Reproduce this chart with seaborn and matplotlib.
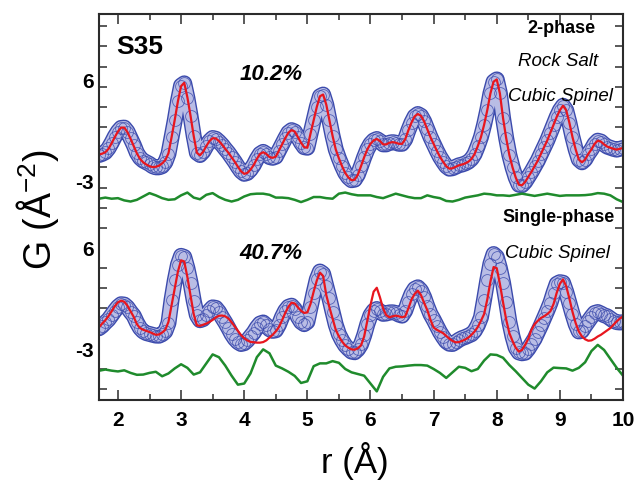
import numpy as np
import pandas as pd
import matplotlib
matplotlib.use("Agg")
import matplotlib.pyplot as plt
import matplotlib.patheffects as pe
import seaborn as sns
from matplotlib.ticker import MultipleLocator, FixedLocator

sns.set_theme(style="ticks")
plt.rcParams['font.family'] = ['Liberation Sans', 'DejaVu Sans']
plt.rcParams['mathtext.fontset'] = 'custom'
plt.rcParams['mathtext.rm'] = 'Liberation Sans'
plt.rcParams['mathtext.it'] = 'Liberation Sans:italic'
plt.rcParams['mathtext.bf'] = 'Liberation Sans:bold'
plt.rcParams['text.color'] = 'black'
plt.rcParams['axes.labelcolor'] = 'black'
plt.rcParams['xtick.labelcolor'] = 'black'
plt.rcParams['ytick.labelcolor'] = 'black'

# r grids (Angstrom)
r = np.round(np.arange(1.70, 10.001, 0.05), 2)
r_diff = np.round(np.arange(1.7, 10.001, 0.1), 1)

# 2-phase panel: observed G(r), fit, difference
g_two_obs = [
    -0.70, -0.60, -0.45, -0.10, 0.40, 0.95, 1.40, 1.72, 1.75, 1.40,
    0.80, 0.20, -0.50, -0.95, -1.20, -1.35, -1.50, -1.70, -1.80, -1.80,
    -1.70, -1.35, -0.60, 0.90, 2.40, 4.10, 5.50, 5.70, 4.40, 2.80,
    1.00, -0.50, -0.70, -0.40, 0.10, 0.55, 0.82, 0.75, 0.50, 0.20,
    -0.16, -0.50, -0.90, -1.30, -1.75, -2.15, -2.38, -2.30, -2.00, -1.60,
    -1.05, -0.60, -0.42, -0.60, -0.88, -0.95, -0.85, -0.30, 0.25, 0.80,
    1.30, 1.52, 1.40, 0.90, 0.40, 0.00, -0.05, 1.20, 2.40, 3.60,
    4.55, 4.70, 3.80, 2.40, 1.00, -0.20, -1.00, -1.70, -2.30, -2.70,
    -2.95, -2.90, -2.45, -1.70, -0.90, -0.20, 0.30, 0.60, 0.73, 0.55,
    0.25, 0.25, 0.40, 0.45, 0.40, 0.30, 0.30, 0.70, 1.50, 2.20,
    2.75, 2.96, 2.80, 2.30, 1.60, 0.90, 0.30, -0.30, -0.85, -1.30,
    -1.70, -1.92, -1.88, -1.75, -1.62, -1.55, -1.45, -1.30, -1.05, -0.60,
    0.10, 0.90, 2.00, 3.30, 4.80, 5.85, 6.05, 4.80, 2.60, 0.80,
    -0.70, -1.80, -2.70, -3.35, -3.40, -3.10, -2.65, -2.20, -1.70, -1.20,
    -0.60, 0.00, 0.60, 1.30, 2.00, 2.70, 3.30, 3.70, 3.30, 2.20,
    0.90, -0.20, -1.10, -1.35, -1.10, -0.60, -0.20, 0.30, 0.58, 0.50,
    0.25, 0.05, -0.05, -0.15, -0.22, -0.15, -0.07,
]
g_two_fit = [
    -0.65, -0.58, -0.45, -0.15, 0.35, 0.90, 1.40, 1.75, 1.75, 1.35,
    0.75, 0.10, -0.55, -1.05, -1.35, -1.55, -1.70, -1.78, -1.75, -1.65,
    -1.45, -1.15, -0.55, 0.90, 2.45, 4.10, 5.45, 5.75, 4.45, 2.80,
    1.00, -0.50, -0.72, -0.40, 0.10, 0.55, 0.80, 0.78, 0.55, 0.22,
    -0.15, -0.50, -0.90, -1.30, -1.75, -2.15, -2.38, -2.30, -2.00, -1.60,
    -1.05, -0.60, -0.45, -0.60, -0.88, -0.95, -0.85, -0.30, 0.25, 0.80,
    1.30, 1.52, 1.40, 0.90, 0.40, 0.00, -0.05, 1.20, 2.40, 3.60,
    4.55, 4.70, 3.80, 2.40, 1.00, -0.20, -1.00, -1.70, -2.30, -2.70,
    -2.95, -2.90, -2.45, -1.70, -0.90, -0.20, 0.30, 0.60, 0.73, 0.55,
    0.25, 0.25, 0.40, 0.45, 0.40, 0.30, 0.30, 0.70, 1.50, 2.20,
    2.75, 2.96, 2.80, 2.30, 1.60, 0.90, 0.30, -0.30, -0.85, -1.30,
    -1.70, -1.92, -1.88, -1.75, -1.62, -1.55, -1.45, -1.30, -1.05, -0.60,
    0.10, 0.90, 2.00, 3.30, 4.80, 5.85, 6.05, 4.80, 2.60, 0.80,
    -0.70, -1.80, -2.70, -3.35, -3.40, -3.10, -2.65, -2.20, -1.70, -1.20,
    -0.60, 0.00, 0.60, 1.30, 2.00, 2.70, 3.30, 3.70, 3.30, 2.20,
    0.90, -0.20, -1.10, -1.35, -1.10, -0.60, -0.20, 0.30, 0.58, 0.50,
    0.25, 0.05, -0.05, -0.15, -0.22, -0.15, -0.07,
]
g_two_diff = [
    0.00, 0.10, 0.00, 0.05, -0.15, -0.25, -0.10, 0.20, 0.50, 0.30,
    0.05, -0.10, -0.05, 0.30, 0.55, 0.10, -0.05, 0.35, 0.50, 0.15,
    -0.10, -0.25, -0.10, 0.20, 0.40, 0.45, 0.45, 0.35, 0.10, 0.10,
    0.05, -0.10, -0.30, -0.10, 0.15, 0.15, 0.05, 0.00, 0.45, 0.55,
    0.40, 0.30, 0.30, 0.30, 0.15, 0.05, 0.25, 0.45, 0.30, 0.15,
    0.05, 0.05, 0.30, 0.15, 0.05, -0.20, -0.25, -0.10, 0.10, 0.20,
    0.30, 0.45, 0.40, 0.30, 0.30, 0.25, 0.35, 0.45, 0.35, 0.25,
    0.35, 0.45, 0.35, 0.25, 0.30, 0.30, 0.30, 0.32, 0.38, 0.50,
    0.45, 0.30, -0.05, -0.30,
]

# single-phase panel
g_one_obs = [
    -1.17, -0.95, -0.65, -0.38, 0.00, 0.40, 0.75, 0.98, 0.95, 0.70,
    0.30, -0.05, -0.65, -1.15, -1.45, -1.60, -1.68, -1.75, -1.82, -1.83,
    -1.70, -1.45, -0.70, 1.40, 3.10, 4.50, 5.30, 5.20, 4.20, 2.90,
    1.30, 0.00, -0.45, -0.35, 0.00, 0.40, 0.70, 0.65, 0.30, -0.20,
    -0.65, -1.15, -1.68, -2.10, -2.40, -2.57, -2.50, -2.25, -1.90, -1.55,
    -1.10, -0.75, -0.65, -0.90, -1.25, -1.40, -1.35, -0.85, -0.15, 0.40,
    0.75, 0.85, 0.55, -0.15, -0.60, -0.80, -0.60, 0.70, 2.00, 3.20,
    3.90, 3.70, 2.60, 1.50, 0.30, -0.85, -1.70, -2.25, -2.70, -3.00,
    -3.25, -3.31, -3.05, -2.60, -1.80, -0.80, 0.00, 0.40, 0.55, 0.35,
    0.12, 0.15, 0.25, 0.26, 0.20, 0.05, -0.04, 0.40, 1.20, 1.90,
    2.35, 2.49, 2.20, 1.60, 0.80, 0.10, -0.40, -0.95, -1.50, -1.95,
    -2.35, -2.55, -2.57, -2.40, -2.20, -2.05, -1.95, -1.82, -1.70, -1.40,
    -0.90, -0.20, 1.40, 3.10, 4.60, 5.46, 5.20, 4.20, 2.90, 1.20,
    -0.60, -1.90, -2.90, -3.32, -3.40, -3.35, -3.00, -2.55, -2.10, -1.50,
    -0.90, -0.25, 0.40, 1.10, 2.00, 2.80, 2.95, 2.90, 2.10, 1.10,
    0.10, -0.80, -1.45, -1.40, -0.95, -0.55, -0.15, 0.20, 0.28, 0.15,
    0.00, -0.10, -0.30, -0.50, -0.62, -0.65, -0.63,
]
g_one_fit = [
    -1.08, -0.75, -0.45, -0.08, 0.35, 0.80, 1.15, 1.30, 1.20, 0.85,
    0.35, -0.15, -0.80, -1.15, -1.30, -1.40, -1.50, -1.62, -1.75, -1.72,
    -1.55, -1.30, -0.60, 0.90, 2.40, 3.90, 4.90, 4.80, 3.40, 1.74,
    0.10, -0.90, -0.95, -0.85, -0.75, -0.60, -0.42, -0.20, -0.05, -0.03,
    -0.10, -0.30, -0.63, -1.00, -1.40, -1.78, -2.05, -2.25, -2.38, -2.42,
    -2.45, -2.45, -2.40, -2.25, -2.00, -1.75, -1.45, -1.05, -0.45, 0.20,
    0.75, 1.12, 1.05, 0.70, 0.40, 0.20, 0.25, 1.00, 2.10, 3.10,
    3.80, 3.50, 1.80, 0.70, -0.30, -1.30, -1.90, -2.35, -2.70, -2.90,
    -3.05, -3.08, -2.95, -2.70, -1.90, -0.50, 0.90, 2.10, 2.45, 1.60,
    0.60, 0.00, -0.19, -0.10, -0.04, -0.10, -0.19, -0.10, 0.60, 1.40,
    1.90, 2.19, 1.80, 1.10, 0.45, -0.40, -1.10, -1.30, -1.45, -1.60,
    -1.85, -2.10, -2.30, -2.42, -2.40, -2.30, -2.17, -2.00, -1.75, -1.45,
    -1.05, -0.50, 0.10, 1.40, 3.00, 4.30, 4.20, 2.80, 1.15, -0.40,
    -1.60, -2.30, -2.90, -3.25, -3.10, -2.65, -2.10, -1.30, -0.80, -0.50,
    -0.25, -0.10, 0.10, 0.35, 1.00, 2.00, 2.80, 3.20, 2.60, 1.50,
    0.30, -0.70, -1.45, -1.90, -2.15, -2.28, -2.25, -2.10, -1.90, -1.75,
    -1.55, -1.35, -1.15, -0.85, -0.55, -0.30, -0.10,
]
g_one_diff = [
    -0.36, -0.25, -0.35, -0.42, -0.32, -0.55, -0.72, -0.70, -0.55, -0.45,
    -0.85, -0.60, -0.15, 0.22, -0.10, -0.70, -0.50, 0.30, 1.10, 0.85,
    0.10, -0.80, -1.60, -1.50, -0.60, 0.85, 1.55, 1.20, 0.10, -0.15,
    -0.45, -0.82, -1.45, -1.30, 0.05, 0.30, 0.30, 0.50, 0.35, -0.20,
    -0.50, -0.65, -0.80, -1.50, -2.20, -0.90, -0.15, 0.00, 0.03, 0.10,
    0.15, 0.15, 0.10, -0.20, -0.55, -1.00, -0.50, 0.00, -0.10, -0.40,
    -0.20, 0.55, 1.10, 1.05, 0.80, 0.15, -0.40, -1.00, -1.60, -1.95,
    -1.30, -0.50, -0.08, -0.12, -0.15, -0.35, -0.10, 0.40, 1.40, 1.95,
    1.50, 0.70, -0.10, -0.80,
]

TOP_OFFSET = 15.0    # vertical shift of the 2-phase panel
DIFF_OFFSET = -4.6   # difference curves sit below each panel

BLUE = '#3b4aac'
BAND = '#b9bde5'
RED = '#e8161e'
GREEN = '#1f8b2c'
DARK = '#2b2b2b'

fig = plt.figure(figsize=(6.38, 4.85), dpi=100)
ax = fig.add_axes([99 / 638, 1 - 401 / 485, 524 / 638, 386 / 485])

# the measured data are drawn as a dense chain of open circles; a thick
# outlined stroke under them gives the packed-ring look of the original
band_fx = [pe.Stroke(linewidth=11.5, foreground=BLUE), pe.Stroke(linewidth=9.5, foreground=BAND)]

for obs, fit, diff, off in [(g_two_obs, g_two_fit, g_two_diff, TOP_OFFSET),
                            (g_one_obs, g_one_fit, g_one_diff, 0.0)]:
    df = pd.DataFrame({'r': r, 'obs': np.array(obs) + off, 'fit': np.array(fit) + off})
    dd = pd.DataFrame({'r': r_diff, 'diff': np.array(diff) + off + DIFF_OFFSET})
    sns.lineplot(data=df, x='r', y='obs', ax=ax, color=BAND, linewidth=9.5,
                 path_effects=band_fx, solid_capstyle='round', solid_joinstyle='round')
    sns.lineplot(data=df, x='r', y='obs', ax=ax, marker='o', linestyle='',
                 markersize=8.5, markerfacecolor='none', markeredgecolor=BLUE,
                 markeredgewidth=0.6, color=BLUE, alpha=0.8)
    sns.lineplot(data=df, x='r', y='fit', ax=ax, color=RED, linewidth=1.6)
    sns.lineplot(data=dd, x='r', y='diff', ax=ax, color=GREEN, linewidth=1.8)

ax.set_xlim(1.7, 10.0)
ax.set_ylim(-7.57, 26.89)

ax.xaxis.set_major_locator(MultipleLocator(1))
ax.xaxis.set_minor_locator(MultipleLocator(0.5))
ax.yaxis.set_major_locator(FixedLocator([-3, 6, 12, 21]))
ax.set_yticklabels(['-3', '6', '-3', '6'])
ax.yaxis.set_minor_locator(FixedLocator(np.round(-6.6 + 1.8 * np.arange(19), 2)))

ax.tick_params(which='both', direction='in', top=True, right=True,
               color=DARK, width=1.1, labelsize=15, labelcolor='black')
ax.tick_params(axis='x', which='major', length=7, pad=7)
ax.tick_params(axis='x', which='minor', length=4)
ax.tick_params(axis='y', which='major', length=0, pad=4)
ax.tick_params(axis='y', which='minor', length=5.5)
for lab in ax.get_xticklabels() + ax.get_yticklabels():
    lab.set_fontweight('bold')
for s in ax.spines.values():
    s.set_linewidth(1.5)
    s.set_color(DARK)

ax.set_xlabel('r (Å)', fontsize=25, color='black')
ax.set_ylabel('G (Å$^{-2}$)', fontsize=27, color='black')
ax.xaxis.set_label_coords(0.489, -0.105)
ax.yaxis.set_label_coords(-0.072, 0.495)

ax.text(1.97, 24.0, 'S35', fontsize=19, fontweight='bold', va='center', ha='left')
ax.text(4.43, 21.6, '10.2%', fontsize=16, fontweight='bold', style='italic',
        ha='center', va='center')
ax.text(4.43, 5.64, '40.7%', fontsize=16, fontweight='bold', style='italic',
        ha='center', va='center')
ax.text(9.56, 25.7, '2-phase', fontsize=13, fontweight='bold', ha='right', va='center')
ax.text(9.60, 22.7, 'Rock Salt', fontsize=13.5, style='italic', ha='right', va='center')
ax.text(9.84, 19.57, 'Cubic Spinel', fontsize=13.5, style='italic', ha='right', va='center')
ax.text(9.87, 8.77, 'Single-phase', fontsize=13, fontweight='bold', ha='right', va='center')
ax.text(9.79, 5.64, 'Cubic Spinel', fontsize=13.5, style='italic', ha='right', va='center')

fig.savefig('out.png', dpi=100)
